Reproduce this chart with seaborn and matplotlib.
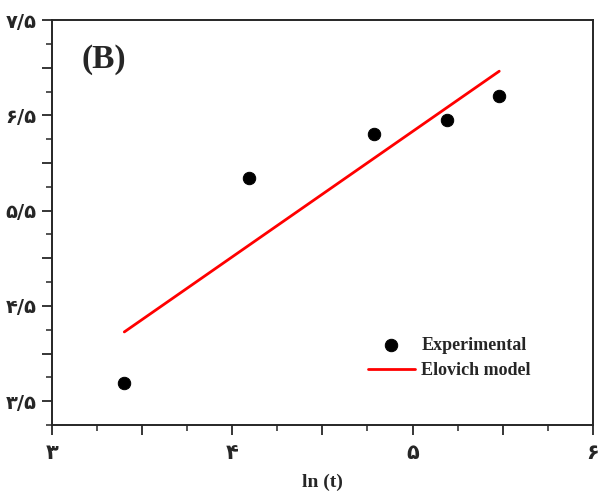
import seaborn as sns
import matplotlib.pyplot as plt
import pandas as pd
import numpy as np
from matplotlib.ticker import MultipleLocator

# data
ln_t = [3.401, 4.094, 4.787, 5.193, 5.481]
qt_exp = [3.69, 5.84, 6.30, 6.45, 6.70]
qt_model = [4.227, 5.139, 6.051, 6.585, 6.964]

x_ticks = [3, 3.5, 4, 4.5, 5, 5.5, 6]
x_labels = ['۳', '', '۴', '', '۵', '', '۶']
y_ticks = [3.5, 4, 4.5, 5, 5.5, 6, 6.5, 7, 7.5]
y_labels = ['۳/۵', '', '۴/۵', '', '۵/۵', '', '۶/۵', '', '۷/۵']

df = pd.DataFrame({'ln_t': ln_t, 'exp': qt_exp, 'model': qt_model})

sns.set_style('ticks')
plt.rcParams['font.family'] = ['Liberation Serif', 'DejaVu Sans']

fig = plt.figure(figsize=(6, 4.91), dpi=100)
ax = fig.add_axes([0.0867, 0.1344, 0.9013, 0.8246])

sns.scatterplot(data=df, x='ln_t', y='exp', color='black', s=80, edgecolor='black',
                label='Experimental', ax=ax, zorder=3)
sns.lineplot(data=df, x='ln_t', y='model', color='#ff0000', linewidth=2,
             label='Elovich model', ax=ax)

ax.set_xlim(3, 6)
ax.set_ylim(3.25, 7.5)
ax.set_xticks(x_ticks)
ax.set_xticklabels(x_labels, family='DejaVu Sans', fontweight='bold', fontsize=15)
ax.set_yticks(y_ticks)
ax.set_yticklabels(y_labels, family='DejaVu Sans', fontweight='bold', fontsize=14)
ax.xaxis.set_minor_locator(MultipleLocator(0.25))
ax.yaxis.set_minor_locator(MultipleLocator(0.25))
ax.tick_params(which='major', length=7, width=1.3, direction='out')
ax.tick_params(which='minor', length=4, width=1.1, direction='out')
ax.tick_params(axis='x', which='major', pad=6)
ax.tick_params(axis='y', which='major', pad=4)
for sp in ax.spines.values():
    sp.set_linewidth(1.4)

ax.set_xlabel('ln (t)', fontweight='bold', fontsize=14, labelpad=8)
ax.set_ylabel('')

ax.text(0.055, 0.94, '(B)', transform=ax.transAxes, fontsize=24, fontweight='bold',
        va='top', ha='left')

leg = ax.legend(loc='upper left', bbox_to_anchor=(368 / 600, 1 - 337 / 491),
                bbox_transform=fig.transFigure, frameon=False, borderpad=0,
                borderaxespad=0, handlelength=2.6, handletextpad=0.35,
                labelspacing=0.45, prop={'weight': 'bold', 'size': 13})

fig.savefig('out.png', dpi=100)
